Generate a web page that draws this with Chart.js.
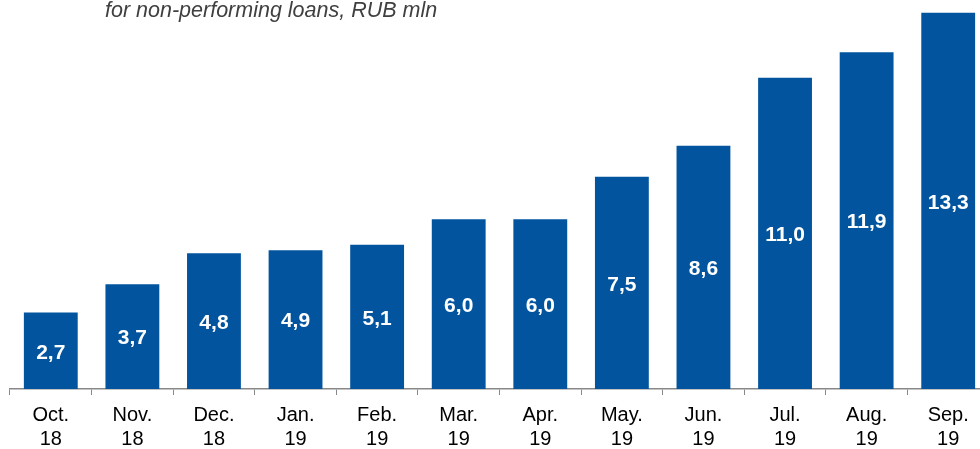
<!DOCTYPE html>
<html>
<head>
<meta charset="utf-8">
<script src="https://cdn.jsdelivr.net/npm/chart.js@4"></script>
<style>
  body { margin: 0; overflow: hidden; background: #fff; }
  #wrap { position: relative; width: 980px; height: 449px; overflow: hidden; }
  #title { position: absolute; left: 105px; top: -2px; font: italic 21.5px "Liberation Sans", Arial, sans-serif; color: #404040; white-space: nowrap; }
</style>
</head>
<body>
<div id="wrap">
  <canvas id="barChart" width="1000" height="449"></canvas>
  <div id="title">for non-performing loans, RUB mln</div>
</div>
<script>
var months = ['Oct.', 'Nov.', 'Dec.', 'Jan.', 'Feb.', 'Mar.', 'Apr.', 'May.', 'Jun.', 'Jul.', 'Aug.', 'Sep.'];
var years = ['18', '18', '18', '19', '19', '19', '19', '19', '19', '19', '19', '19'];
var values = [2.7, 3.7, 4.8, 4.9, 5.1, 6.0, 6.0, 7.5, 8.6, 11.0, 11.9, 13.3];

var labels = [];
for (var i = 0; i < months.length; i++) {
    labels.push([months[i], years[i]]);
}

// white numbers inside the bars
var insideLabels = {
    id: 'insideLabels',
    afterDatasetsDraw: function(chart) {
        var ctx = chart.ctx;
        var meta = chart.getDatasetMeta(0);
        ctx.save();
        ctx.fillStyle = '#ffffff';
        ctx.font = 'bold 21px "Liberation Sans", Arial, sans-serif';
        ctx.textAlign = 'center';
        ctx.textBaseline = 'middle';
        meta.data.forEach(function(bar, idx) {
            var txt = values[idx].toFixed(1).replace('.', ',');
            ctx.fillText(txt, bar.x, (bar.y + bar.base) / 2 + 2);
        });
        ctx.restore();
    }
};

var ctx1 = document.getElementById('barChart').getContext('2d');
var myBarChart = new Chart(ctx1, {
    type: 'bar',
    data: {
        labels: labels,
        datasets: [{
            data: values,
            backgroundColor: '#02549F',
            borderWidth: 0,
            categoryPercentage: 1,
            barPercentage: 0.66
        }]
    },
    options: {
        responsive: false,
        animation: false,
        layout: { padding: { left: 10, right: 11, top: 0, bottom: 0 } },
        plugins: {
            legend: { display: false },
            tooltip: { enabled: false }
        },
        scales: {
            x: {
                afterFit: function(scale) { scale.height = 60; },
                grid: {
                    offset: true,
                    drawOnChartArea: false,
                    tickLength: 6,
                    color: '#888888'
                },
                border: { color: '#888888', width: 1.5 },
                ticks: {
                    color: '#000000',
                    padding: 9,
                    maxRotation: 0,
                    font: { family: '"Liberation Sans", Arial, sans-serif', size: 20, lineHeight: 1.18 }
                }
            },
            y: {
                display: false,
                min: 0,
                max: 13.75
            }
        }
    },
    plugins: [insideLabels]
});
</script>
</body>
</html>
